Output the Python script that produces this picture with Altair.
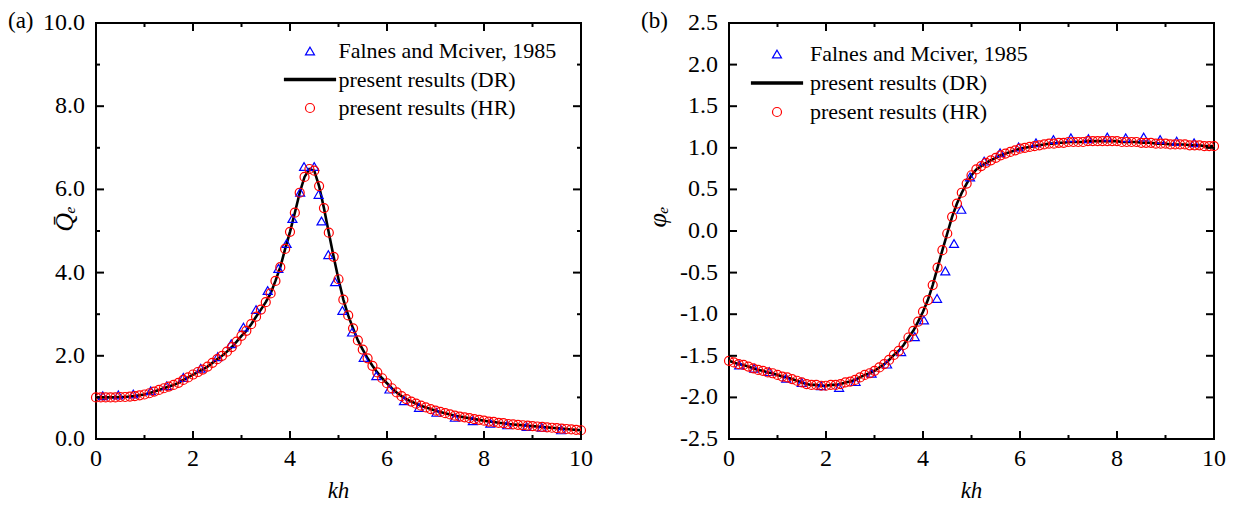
import altair as alt
import pandas as pd

# ---------------- data ----------------
KH = [0.0, 0.1, 0.2, 0.3, 0.4, 0.5, 0.6, 0.7, 0.8, 0.9,
      1.0, 1.1, 1.2, 1.3, 1.4, 1.5, 1.6, 1.7, 1.8, 1.9,
      2.0, 2.1, 2.2, 2.3, 2.4, 2.5, 2.6, 2.7, 2.8, 2.9,
      3.0, 3.1, 3.2, 3.3, 3.4, 3.5, 3.6, 3.7, 3.8, 3.9,
      4.0, 4.1, 4.2, 4.3, 4.4, 4.5, 4.6, 4.7, 4.8, 4.9,
      5.0, 5.1, 5.2, 5.3, 5.4, 5.5, 5.6, 5.7, 5.8, 5.9,
      6.0, 6.1, 6.2, 6.3, 6.4, 6.5, 6.6, 6.7, 6.8, 6.9,
      7.0, 7.1, 7.2, 7.3, 7.4, 7.5, 7.6, 7.7, 7.8, 7.9,
      8.0, 8.1, 8.2, 8.3, 8.4, 8.5, 8.6, 8.7, 8.8, 8.9,
      9.0, 9.1, 9.2, 9.3, 9.4, 9.5, 9.6, 9.7, 9.8, 9.9, 10.0]

# panel (a): Q_e, present results
Q_HR = [1.00, 1.00, 1.00, 1.00, 1.00, 1.01, 1.01, 1.02, 1.03, 1.05,
        1.07, 1.10, 1.14, 1.18, 1.22, 1.26, 1.30, 1.35, 1.42, 1.48,
        1.55, 1.61, 1.67, 1.74, 1.83, 1.92, 2.00, 2.10, 2.21, 2.34,
        2.48, 2.60, 2.76, 2.94, 3.11, 3.29, 3.50, 3.80, 4.13, 4.57,
        4.98, 5.44, 5.92, 6.30, 6.49, 6.45, 6.08, 5.55, 4.96, 4.38,
        3.84, 3.35, 2.97, 2.66, 2.37, 2.15, 1.94, 1.76, 1.60, 1.46,
        1.34, 1.22, 1.12, 1.03, 0.96, 0.90, 0.85, 0.80, 0.76, 0.72,
        0.68, 0.65, 0.62, 0.59, 0.56, 0.54, 0.52, 0.50, 0.48, 0.46,
        0.44, 0.42, 0.41, 0.39, 0.38, 0.36, 0.35, 0.34, 0.33, 0.32,
        0.31, 0.30, 0.29, 0.28, 0.27, 0.26, 0.25, 0.24, 0.23, 0.22, 0.21]
Q_DR = Q_HR

FALNES_Q_KH = [0.14, 0.46, 0.77, 1.13, 1.46, 1.80, 2.16, 2.51, 2.79, 3.04,
               3.30, 3.54, 3.76, 3.93, 4.05, 4.21, 4.29, 4.50, 4.59, 4.65,
               4.79, 4.93, 5.08, 5.28, 5.52, 5.78, 6.05, 6.35, 6.66, 7.02,
               7.40, 7.77, 8.13, 8.48, 8.88, 9.19, 9.59]
FALNES_Q = [1.04, 1.06, 1.08, 1.16, 1.28, 1.48, 1.70, 1.98, 2.29, 2.69,
            3.11, 3.57, 4.10, 4.70, 5.30, 5.93, 6.55, 6.55, 5.88, 5.24,
            4.43, 3.78, 3.09, 2.57, 1.96, 1.52, 1.20, 0.92, 0.76, 0.64,
            0.52, 0.44, 0.38, 0.34, 0.30, 0.28, 0.22]

# panel (b): phase, present results
PHI_HR = [-1.56, -1.58, -1.60, -1.61, -1.63, -1.65, -1.67, -1.68, -1.70, -1.71,
          -1.73, -1.75, -1.76, -1.78, -1.80, -1.82, -1.84, -1.85, -1.85, -1.86,
          -1.86, -1.85, -1.85, -1.84, -1.82, -1.81, -1.79, -1.76, -1.73, -1.71,
          -1.68, -1.64, -1.60, -1.55, -1.49, -1.44, -1.37, -1.28, -1.20, -1.09,
          -0.97, -0.83, -0.65, -0.44, -0.23, -0.03, 0.17, 0.33, 0.46, 0.57,
          0.67, 0.74, 0.78, 0.82, 0.85, 0.88, 0.91, 0.93, 0.95, 0.97,
          0.99, 1.00, 1.01, 1.02, 1.03, 1.04, 1.05, 1.05, 1.06, 1.06,
          1.07, 1.07, 1.07, 1.07, 1.08, 1.08, 1.08, 1.08, 1.08, 1.08,
          1.08, 1.07, 1.07, 1.07, 1.07, 1.06, 1.06, 1.06, 1.05, 1.05,
          1.05, 1.04, 1.04, 1.04, 1.04, 1.03, 1.03, 1.03, 1.02, 1.02, 1.02]
PHI_DR = PHI_HR

FALNES_PHI_KH = [0.21, 0.52, 0.83, 1.18, 1.50, 1.90, 2.27, 2.61, 2.94, 3.26,
                 3.55, 3.83, 4.02, 4.29, 4.46, 4.64, 4.79, 4.97, 5.26, 5.59,
                 5.97, 6.33, 6.69, 7.05, 7.41, 7.80, 8.18, 8.55, 8.89, 9.23, 9.59]
FALNES_PHI = [-1.61, -1.65, -1.69, -1.77, -1.82, -1.86, -1.88, -1.81, -1.71, -1.60,
              -1.45, -1.27, -1.07, -0.81, -0.48, -0.15, 0.26, 0.65, 0.84, 0.94,
              1.01, 1.06, 1.10, 1.12, 1.11, 1.13, 1.12, 1.13, 1.10, 1.08, 1.06]

SERIES = ["Falnes and Mciver, 1985", "present results (DR)", "present results (HR)"]

# tick positions and tick labels
X_MAJOR = [0, 2, 4, 6, 8, 10]
X_LABELS = ["0", "2", "4", "6", "8", "10"]
X_MINOR = [1, 3, 5, 7, 9]
Q_MAJOR = [0, 2, 4, 6, 8, 10]
Q_LABELS = ["0.0", "2.0", "4.0", "6.0", "8.0", "10.0"]
Q_MINOR = [1, 3, 5, 7, 9]
PHI_MAJOR = [-2.5, -2.0, -1.5, -1.0, -0.5, 0.0, 0.5, 1.0, 1.5, 2.0, 2.5]
PHI_LABELS = ["-2.5", "-2.0", "-1.5", "-1.0", "-0.5", "0.0", "0.5", "1.0",
              "1.5", "2.0", "2.5"]

X_TITLE = "kh"
Q_TITLE = "Q\u0304\u2091"
PHI_TITLE = "\u03c6\u2091"

# ---------------- styling ----------------
FONT = "Liberation Serif"
W, H = 485, 416
MAJOR_LEN, MINOR_LEN = 8, 4
TICK_FS = 24
LINE_SYMBOL = "M-5.8,-0.25H5.8M-5.8,0H5.8M-5.8,0.25H5.8"


def x_ticks(values, xs, length):
    df = pd.DataFrame({"kh": values})
    base = alt.Chart(df).mark_rule(color="black", strokeWidth=2)
    bottom = base.encode(x=alt.X("kh:Q", scale=xs, axis=None),
                         y=alt.value(H), y2=alt.value(H - length))
    top = base.encode(x=alt.X("kh:Q", scale=xs, axis=None),
                      y=alt.value(0), y2=alt.value(length))
    return [bottom, top]


def y_ticks(values, ys, length):
    df = pd.DataFrame({"v": values})
    base = alt.Chart(df).mark_rule(color="black", strokeWidth=2)
    left = base.encode(y=alt.Y("v:Q", scale=ys, axis=None),
                       x=alt.value(0), x2=alt.value(length))
    right = base.encode(y=alt.Y("v:Q", scale=ys, axis=None),
                        x=alt.value(W), x2=alt.value(W - length))
    return [left, right]


def panel(line_vals, pts_kh, pts_vals, falnes_kh, falnes_vals, ydomain,
          ymajor, ylabels, yminor, ytitle, ytitle_x, ytitle_y, letter,
          legend_x, legend_y, label_offset, row_pad):
    line_df = pd.DataFrame({"kh": KH, "v": line_vals})
    pts_df = pd.concat([
        pd.DataFrame({"kh": falnes_kh, "v": falnes_vals, "series": SERIES[0]}),
        pd.DataFrame({"kh": pts_kh, "v": pts_vals, "series": SERIES[2]}),
    ], ignore_index=True)

    xs = alt.Scale(domain=[0, 10], nice=False, zero=False)
    ys = alt.Scale(domain=ydomain, nice=False, zero=False)

    line = alt.Chart(line_df).mark_line(color="black", strokeWidth=2.6).encode(
        x=alt.X("kh:Q", scale=xs, axis=None),
        y=alt.Y("v:Q", scale=ys, axis=None),
    )

    legend = alt.Legend(orient="none", legendX=legend_x, legendY=legend_y,
                        title=None, labelFont=FONT, labelFontSize=22,
                        labelColor="black", labelLimit=0, symbolSize=81,
                        symbolStrokeWidth=1.2, labelOffset=label_offset,
                        rowPadding=row_pad, padding=0)
    pts = alt.Chart(pts_df).mark_point(filled=False, size=81, strokeWidth=1.2,
                                       opacity=1).encode(
        x=alt.X("kh:Q", scale=xs, axis=None),
        y=alt.Y("v:Q", scale=ys, axis=None),
        color=alt.Color("series:N", legend=legend,
                        scale=alt.Scale(domain=SERIES,
                                        range=["#0000ff", "#000000", "#ff0000"])),
        shape=alt.Shape("series:N", legend=legend,
                        scale=alt.Scale(domain=SERIES,
                                        range=["triangle-up", LINE_SYMBOL, "circle"])),
        order=alt.Order("series:N"),
    )

    ticks = (x_ticks(X_MAJOR, xs, MAJOR_LEN) + x_ticks(X_MINOR, xs, MINOR_LEN)
             + y_ticks(ymajor, ys, MAJOR_LEN))
    if yminor:
        ticks += y_ticks(yminor, ys, MINOR_LEN)

    # tick labels, placed through the scales
    xlab = alt.Chart(pd.DataFrame({"kh": X_MAJOR, "lab": X_LABELS})).mark_text(
        font=FONT, fontSize=TICK_FS, color="black", align="center",
        baseline="top"
    ).encode(x=alt.X("kh:Q", scale=xs, axis=None), y=alt.value(H + 8),
             text="lab:N")
    ylab = alt.Chart(pd.DataFrame({"v": ymajor, "lab": ylabels})).mark_text(
        font=FONT, fontSize=TICK_FS, color="black", align="right",
        baseline="middle"
    ).encode(y=alt.Y("v:Q", scale=ys, axis=None), x=alt.value(-11),
             text="lab:N")

    # axis titles
    xtitle = alt.Chart(pd.DataFrame({"t": [X_TITLE]})).mark_text(
        font=FONT, fontSize=23, fontStyle="italic", color="black",
        align="center", baseline="top"
    ).encode(x=alt.value(W / 2), y=alt.value(H + 41), text="t:N")
    ytitle_mark = alt.Chart(pd.DataFrame({"t": [ytitle]})).mark_text(
        font=FONT, fontSize=26, fontStyle="italic", color="black",
        align="center", baseline="middle", angle=270
    ).encode(x=alt.value(ytitle_x), y=alt.value(ytitle_y), text="t:N")

    return alt.layer(line, pts, *ticks, xlab, ylab, xtitle, ytitle_mark).properties(
        width=W, height=H,
        view=alt.ViewBackground(stroke="black", strokeWidth=2),
        title=alt.TitleParams(text=letter, anchor="start", frame="group",
                              font=FONT, fontSize=23, fontWeight="normal",
                              color="black", offset=0, dx=-88, dy=22),
    )


left = panel(Q_DR, KH, Q_HR, FALNES_Q_KH, FALNES_Q, [0, 10], Q_MAJOR, Q_LABELS,
             Q_MINOR, Q_TITLE, -31, 196, "(a)", 203, 17, 17.5, 6.5)
right = panel(PHI_DR, KH, PHI_HR, FALNES_PHI_KH, FALNES_PHI, [-2.5, 2.5],
              PHI_MAJOR, PHI_LABELS, None, PHI_TITLE, -71, 194, "(b)",
              37, 20, 22, 7)

chart = alt.hconcat(left, right, spacing=148, bounds="flush").resolve_scale(
    color="independent", shape="independent"
).resolve_legend(
    color="independent", shape="independent"
).properties(
    padding={"left": 7, "top": 9, "right": 5, "bottom": 2}
).configure_view(
    stroke="black", strokeWidth=2
)

chart.save("out.html", embed_options={"renderer": "svg", "actions": False})
